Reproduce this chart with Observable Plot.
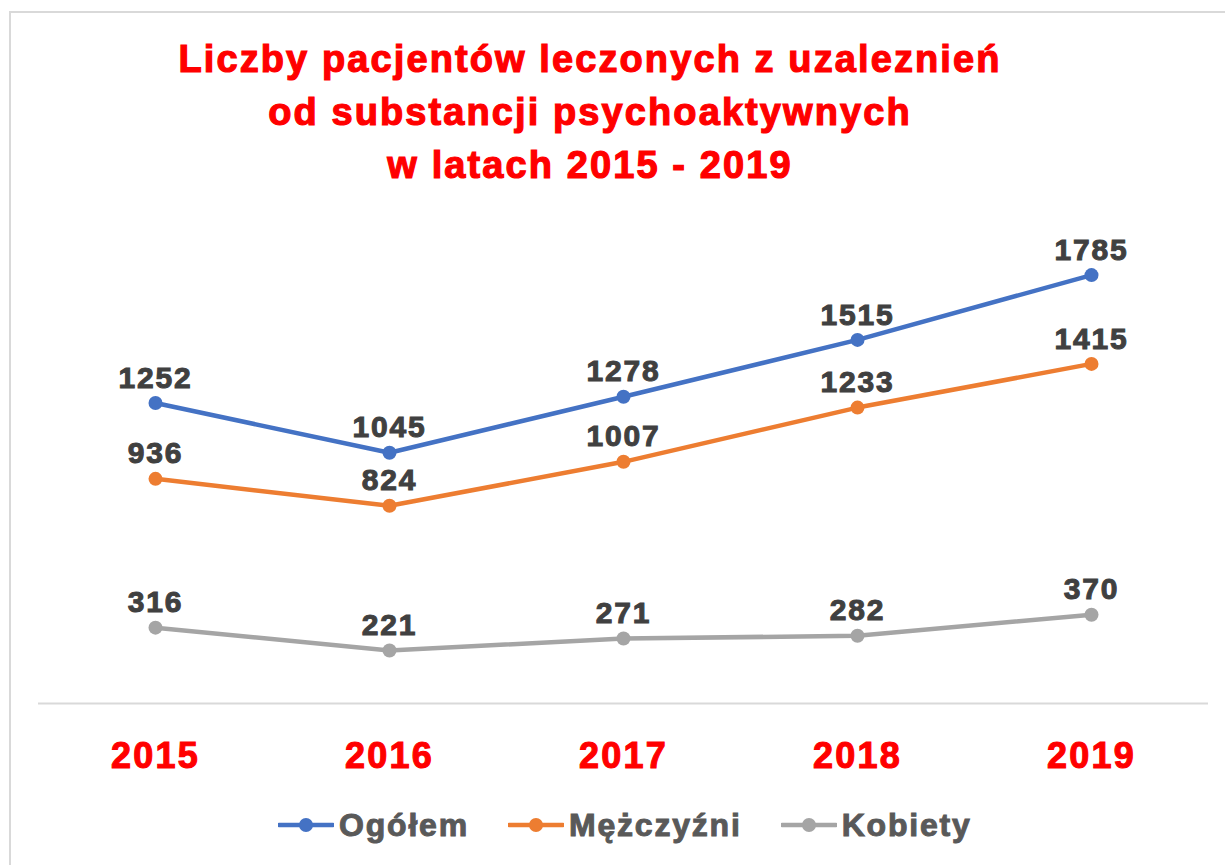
<!DOCTYPE html>
<html><head><meta charset="utf-8">
<script src="https://cdn.jsdelivr.net/npm/d3@7"></script>
<script src="https://cdn.jsdelivr.net/npm/@observablehq/plot@0.6"></script>
<style>
body{margin:0;background:#fff;font-family:"Liberation Sans",Arial,sans-serif;}
#wrap{position:relative;width:1225px;height:865px;overflow:hidden;background:#fff;}
#frame{position:absolute;left:9px;top:11px;width:1300px;height:900px;border-left:2px solid #d9d9d9;border-top:2px solid #d9d9d9;box-sizing:border-box;}
#title{position:absolute;left:0;top:33px;width:1180px;text-align:center;color:#ff0000;font-weight:bold;font-size:38px;line-height:53px;letter-spacing:2.1px;-webkit-text-stroke:1.2px #ff0000;}
#chart{position:absolute;left:0;top:192px;}
#legend{position:absolute;left:278px;top:792px;height:66px;display:flex;align-items:center;font-weight:bold;font-size:32px;line-height:1;color:#595959;letter-spacing:1.8px;-webkit-text-stroke:1px #595959;}
.item{display:flex;align-items:center;margin-right:39px;}
.item svg{margin-right:5px;}
#chart g[aria-label="x-axis tick label"] text{letter-spacing:2.2px;stroke:#ff0000;stroke-width:1.1px;paint-order:stroke;}
#chart g[aria-label="text"] text{letter-spacing:1.8px;stroke:#404040;stroke-width:1px;paint-order:stroke;}
</style>
</head><body>
<div id="wrap">
<div id="frame"></div>
<div id="title"></div>
<div id="chart"></div>
<div id="legend"></div>
</div>
<script>
const titleLines = ["Liczby pacjentów leczonych z uzaleznień", "od substancji psychoaktywnych", "w latach 2015 - 2019"];
const years = ["2015", "2016", "2017", "2018", "2019"];
const seriesNames = ["Ogółem", "Mężczyźni", "Kobiety"];
const ogolem = [1252, 1045, 1278, 1515, 1785];
const mezczyzni = [936, 824, 1007, 1233, 1415];
const kobiety = [316, 221, 271, 282, 370];
const colors = ["#4472c4", "#ed7d31", "#a5a5a5"];
const yDomain = [0, 2000];

const data = [ogolem, mezczyzni, kobiety].flatMap((vals, s) =>
  vals.map((v, i) => ({year: years[i], value: v, series: seriesNames[s]})));

document.getElementById("title").innerHTML = titleLines.map(t => `<div>${t}</div>`).join("");

const chart = Plot.plot({
  width: 1225, height: 600,
  marginTop: 31, marginBottom: 89, marginLeft: 38, marginRight: 17,
  x: {type: "point", domain: years, padding: 0.5, axis: null},
  y: {domain: yDomain, axis: null},
  color: {domain: seriesNames, range: colors},
  style: {background: "transparent", fontFamily: "'Liberation Sans', Arial, sans-serif", overflow: "visible"},
  marks: [
    Plot.ruleY([0], {stroke: "#d9d9d9", strokeWidth: 2}),
    Plot.axisX({tickSize: 0, tickPadding: 39, fontSize: 36, fontWeight: "bold", color: "#ff0000", fill: "#ff0000", label: null}),
    Plot.line(data, {x: "year", y: "value", z: "series", stroke: "series", strokeWidth: 4.5}),
    Plot.dot(data, {x: "year", y: "value", fill: "series", r: 7}),
    Plot.text(data, {x: "year", y: "value", text: d => String(d.value), dy: -25, lineAnchor: "middle",
      fontSize: 30, fontWeight: "bold", fill: "#404040"})
  ]
});
document.getElementById("chart").appendChild(chart);

const legend = document.getElementById("legend");
seriesNames.forEach((name, i) => {
  const item = document.createElement("div");
  item.className = "item";
  item.innerHTML = `<svg width="56" height="18"><line x1="1" x2="55" y1="9" y2="9" stroke="${colors[i]}" stroke-width="4.5" stroke-linecap="round"/><circle cx="28" cy="9" r="7" fill="${colors[i]}"/></svg><span>${name}</span>`;
  legend.appendChild(item);
});
</script>
</body></html>
